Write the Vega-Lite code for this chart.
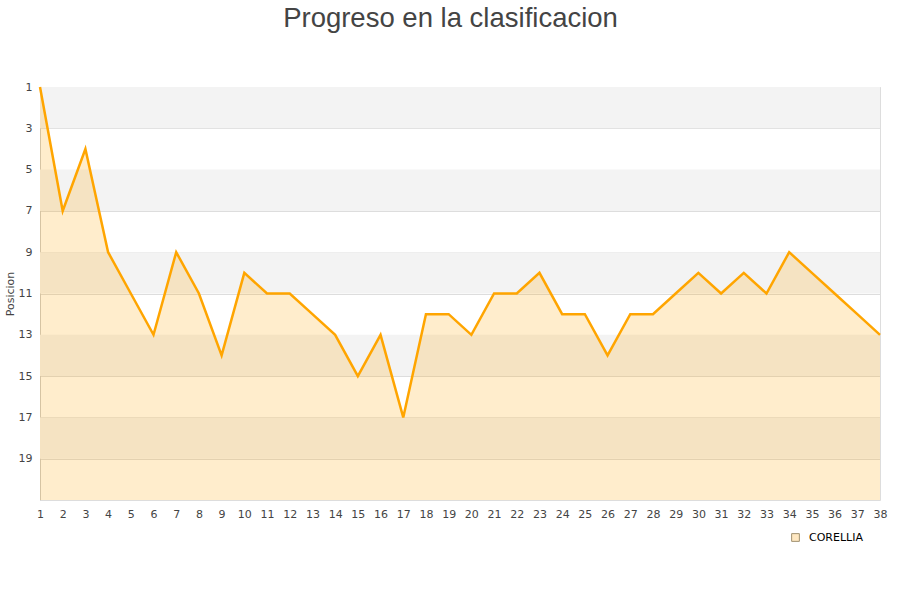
{
  "$schema": "https://vega.github.io/schema/vega-lite/v6.json",
  "autosize": "none",
  "width": 840,
  "height": 413,
  "padding": {"left": 40, "top": 87, "right": 20, "bottom": 100},
  "background": "white",
  "title": {"text": "Progreso en la clasificacion", "font": "Liberation Sans", "fontSize": 27.5, "fontWeight": "normal", "color": "#444444", "anchor": "middle", "frame": "bounds", "dx": 5, "offset": 49},
  "datasets": {
    "pos": [
      {"jornada": 1, "posicion": 1, "equipo": "CORELLIA"},
      {"jornada": 2, "posicion": 7, "equipo": "CORELLIA"},
      {"jornada": 3, "posicion": 4, "equipo": "CORELLIA"},
      {"jornada": 4, "posicion": 9, "equipo": "CORELLIA"},
      {"jornada": 5, "posicion": 11, "equipo": "CORELLIA"},
      {"jornada": 6, "posicion": 13, "equipo": "CORELLIA"},
      {"jornada": 7, "posicion": 9, "equipo": "CORELLIA"},
      {"jornada": 8, "posicion": 11, "equipo": "CORELLIA"},
      {"jornada": 9, "posicion": 14, "equipo": "CORELLIA"},
      {"jornada": 10, "posicion": 10, "equipo": "CORELLIA"},
      {"jornada": 11, "posicion": 11, "equipo": "CORELLIA"},
      {"jornada": 12, "posicion": 11, "equipo": "CORELLIA"},
      {"jornada": 13, "posicion": 12, "equipo": "CORELLIA"},
      {"jornada": 14, "posicion": 13, "equipo": "CORELLIA"},
      {"jornada": 15, "posicion": 15, "equipo": "CORELLIA"},
      {"jornada": 16, "posicion": 13, "equipo": "CORELLIA"},
      {"jornada": 17, "posicion": 17, "equipo": "CORELLIA"},
      {"jornada": 18, "posicion": 12, "equipo": "CORELLIA"},
      {"jornada": 19, "posicion": 12, "equipo": "CORELLIA"},
      {"jornada": 20, "posicion": 13, "equipo": "CORELLIA"},
      {"jornada": 21, "posicion": 11, "equipo": "CORELLIA"},
      {"jornada": 22, "posicion": 11, "equipo": "CORELLIA"},
      {"jornada": 23, "posicion": 10, "equipo": "CORELLIA"},
      {"jornada": 24, "posicion": 12, "equipo": "CORELLIA"},
      {"jornada": 25, "posicion": 12, "equipo": "CORELLIA"},
      {"jornada": 26, "posicion": 14, "equipo": "CORELLIA"},
      {"jornada": 27, "posicion": 12, "equipo": "CORELLIA"},
      {"jornada": 28, "posicion": 12, "equipo": "CORELLIA"},
      {"jornada": 29, "posicion": 11, "equipo": "CORELLIA"},
      {"jornada": 30, "posicion": 10, "equipo": "CORELLIA"},
      {"jornada": 31, "posicion": 11, "equipo": "CORELLIA"},
      {"jornada": 32, "posicion": 10, "equipo": "CORELLIA"},
      {"jornada": 33, "posicion": 11, "equipo": "CORELLIA"},
      {"jornada": 34, "posicion": 9, "equipo": "CORELLIA"},
      {"jornada": 35, "posicion": 10, "equipo": "CORELLIA"},
      {"jornada": 36, "posicion": 11, "equipo": "CORELLIA"},
      {"jornada": 37, "posicion": 12, "equipo": "CORELLIA"},
      {"jornada": 38, "posicion": 13, "equipo": "CORELLIA"}
    ],
    "bands": [
      {"desde": 1, "hasta": 3},
      {"desde": 5, "hasta": 7},
      {"desde": 9, "hasta": 11},
      {"desde": 13, "hasta": 15},
      {"desde": 17, "hasta": 19}
    ]
  },
  "config": {
    "view": {"stroke": "#dddddd", "strokeWidth": 1},
    "axis": {"labelFont": "DejaVu Sans", "labelFontSize": 11, "labelColor": "#444444", "titleFont": "DejaVu Sans", "titleFontSize": 11, "titleFontWeight": "normal", "titleColor": "#444444", "ticks": false, "domainColor": "#cccccc", "gridColor": "#dddddd"},
    "axisX": {"labelOverlap": false, "labelFlush": false, "labelBound": false}
  },
  "layer": [
    {
      "data": {"name": "bands"},
      "mark": {"type": "rect", "color": "#f3f3f3"},
      "encoding": {
        "y": {"field": "desde", "type": "quantitative", "scale": {"domain": [1, 21], "reverse": true, "nice": false, "zero": false}},
        "y2": {"field": "hasta"}
      }
    },
    {
      "data": {"name": "pos"},
      "mark": {"type": "area", "opacity": 0.2, "color": "#ffa500"},
      "encoding": {
        "x": {"field": "jornada", "type": "quantitative", "scale": {"domain": [1, 38], "nice": false, "zero": false}, "axis": {"title": null, "grid": false, "domain": false, "labelPadding": 8, "labelOverlap": false, "tickCount": 38, "values": [1,2,3,4,5,6,7,8,9,10,11,12,13,14,15,16,17,18,19,20,21,22,23,24,25,26,27,28,29,30,31,32,33,34,35,36,37,38], "labelFlush": false}},
        "y": {"field": "posicion", "type": "quantitative", "axis": {"title": "Posicion", "values": [1,3,5,7,9,11,13,15,17,19], "grid": true, "labelPadding": 8, "titlePadding": 3, "domain": true}},
        "y2": {"datum": 21}
      }
    },
    {
      "data": {"name": "pos"},
      "mark": {"type": "line", "color": "#ffa500", "strokeWidth": 2.5},
      "encoding": {
        "x": {"field": "jornada", "type": "quantitative", "axis": {"labelOverlap": false}},
        "y": {"field": "posicion", "type": "quantitative"}
      }
    },
    {
      "data": {"name": "pos"},
      "transform": [{"filter": "datum.jornada == 1"}],
      "mark": {"type": "square", "size": 0, "filled": true, "strokeWidth": 1, "opacity": 1},
      "encoding": {
        "x": {"field": "jornada", "type": "quantitative"},
        "y": {"field": "posicion", "type": "quantitative"},
        "fill": {"field": "equipo", "type": "nominal", "scale": {"range": ["#ffe8c2"]}, "legend": {"title": null, "orient": "none", "legendX": 750, "legendY": 445, "symbolType": "square", "symbolSize": 60, "symbolStrokeWidth": 1, "labelOffset": 8, "labelFont": "DejaVu Sans", "labelFontSize": 11, "labelColor": "#000000"}},
        "stroke": {"field": "equipo", "type": "nominal", "scale": {"range": ["#a09070"]}, "legend": {"title": null, "orient": "none", "legendX": 750, "legendY": 445, "symbolType": "square", "symbolSize": 60, "symbolStrokeWidth": 1, "labelOffset": 8, "labelFont": "DejaVu Sans", "labelFontSize": 11, "labelColor": "#000000"}}
      }
    }
  ]
}
